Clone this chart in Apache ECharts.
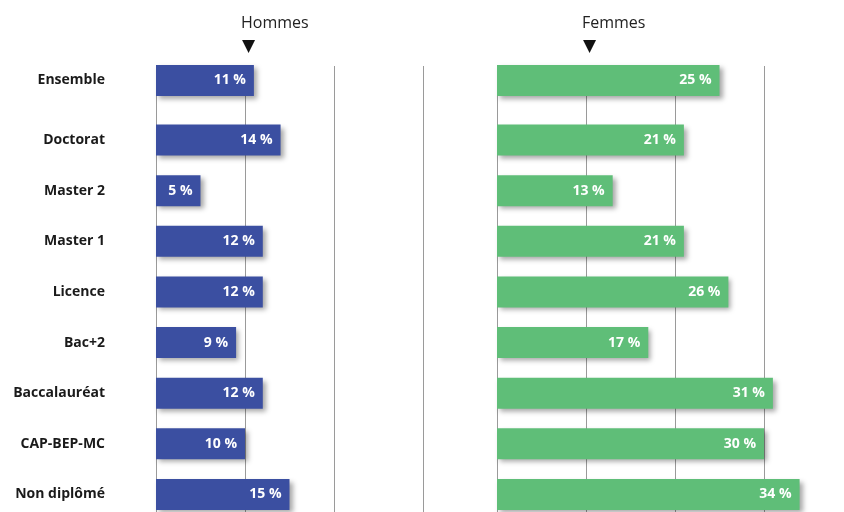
<!DOCTYPE html>
<html><head><meta charset="utf-8">
<script src="https://cdn.jsdelivr.net/npm/echarts@6/dist/echarts.min.js"></script>
<style>html,body{margin:0;padding:0;background:#fff}#c{width:844px;height:512px}</style>
</head><body><div id="c"></div>
<script>
const ensembleLabel = ['Ensemble'];
const categories = ['Doctorat','Master 2','Master 1','Licence','Bac+2','Baccalauréat','CAP-BEP-MC','Non diplômé'];
const hommesEnsemble = [11];
const femmesEnsemble = [25];
const hommes = [14, 5, 12, 12, 9, 12, 10, 15];
const femmes = [21, 13, 21, 26, 17, 31, 30, 34];
const ticksHommes = [0, 10, 20, 30];
const ticksFemmes = [0, 10, 20, 30, 40];

const BLUE = '#3b4fa1', GREEN = '#5fbe78';
const chart = echarts.init(document.getElementById('c'));
const L = {left:156, width:267, outerBoundsMode:'none', containLabel:false},
      R = {left:497, width:356, outerBoundsMode:'none', containLabel:false};
const grids = [
  Object.assign({top:66, height:446}, L),
  Object.assign({top:55.5, height:50}, L),
  Object.assign({top:114.7, height:405.1}, L),
  Object.assign({top:66, height:446}, R),
  Object.assign({top:55.5, height:50}, R),
  Object.assign({top:114.7, height:405.1}, R)
];
function xa(i, ticks, bg){
  return {gridIndex:i, type:'value', min:ticks[0], max:ticks[ticks.length-1], interval:10,
    position:'top', show:true,
    axisLine:{show:bg, lineStyle:{color:'#9a9a9a', width:1}},
    axisTick:{show:false}, axisLabel:{show:false},
    splitLine:{show:bg, lineStyle:{color:'#9a9a9a', width:1}}};
}
function ya(i, data, showLabel){
  if (data === null) return {gridIndex:i, type:'value', show:false};
  return {gridIndex:i, type:'category', data:data, inverse:true,
    axisLine:{show:false}, axisTick:{show:false}, splitLine:{show:false},
    axisLabel:{show:showLabel, margin:51, color:'#1a1a1a', fontWeight:'bold', fontSize:14,
      fontFamily:'"Open Sans", sans-serif'}};
}
function bar(i, data, color){
  return {type:'bar', xAxisIndex:i, yAxisIndex:i, data:data, barWidth:31, clip:false,
    itemStyle:{color:color, shadowBlur:5, shadowOffsetX:3, shadowOffsetY:3, shadowColor:'rgba(0,0,0,0.35)'},
    label:{show:true, position:'insideRight', distance:8, formatter:'{c} %', color:'#fff',
      fontWeight:'bold', fontSize:14, fontFamily:'"Open Sans", sans-serif'}};
}
chart.setOption({
  animation:false,
  title:[
    {text:'Hommes', left:236, top:10, textStyle:{fontSize:16, fontWeight:'normal', color:'#222', fontFamily:'"Open Sans", sans-serif'}},
    {text:'▼', left:237, top:33, textStyle:{fontSize:17, fontWeight:'normal', color:'#111', fontFamily:'"DejaVu Sans", sans-serif'}},
    {text:'Femmes', left:577, top:10, textStyle:{fontSize:16, fontWeight:'normal', color:'#222', fontFamily:'"Open Sans", sans-serif'}},
    {text:'▼', left:578, top:33, textStyle:{fontSize:17, fontWeight:'normal', color:'#111', fontFamily:'"DejaVu Sans", sans-serif'}}
  ],
  grid:grids,
  xAxis:[xa(0,ticksHommes,true), xa(1,ticksHommes,false), xa(2,ticksHommes,false),
         xa(3,ticksFemmes,true), xa(4,ticksFemmes,false), xa(5,ticksFemmes,false)],
  yAxis:[ya(0,null), ya(1,ensembleLabel,true), ya(2,categories,true),
         ya(3,null), ya(4,ensembleLabel,false), ya(5,categories,false)],
  series:[bar(1,hommesEnsemble,BLUE), bar(2,hommes,BLUE), bar(4,femmesEnsemble,GREEN), bar(5,femmes,GREEN)]
});
</script></body></html>
